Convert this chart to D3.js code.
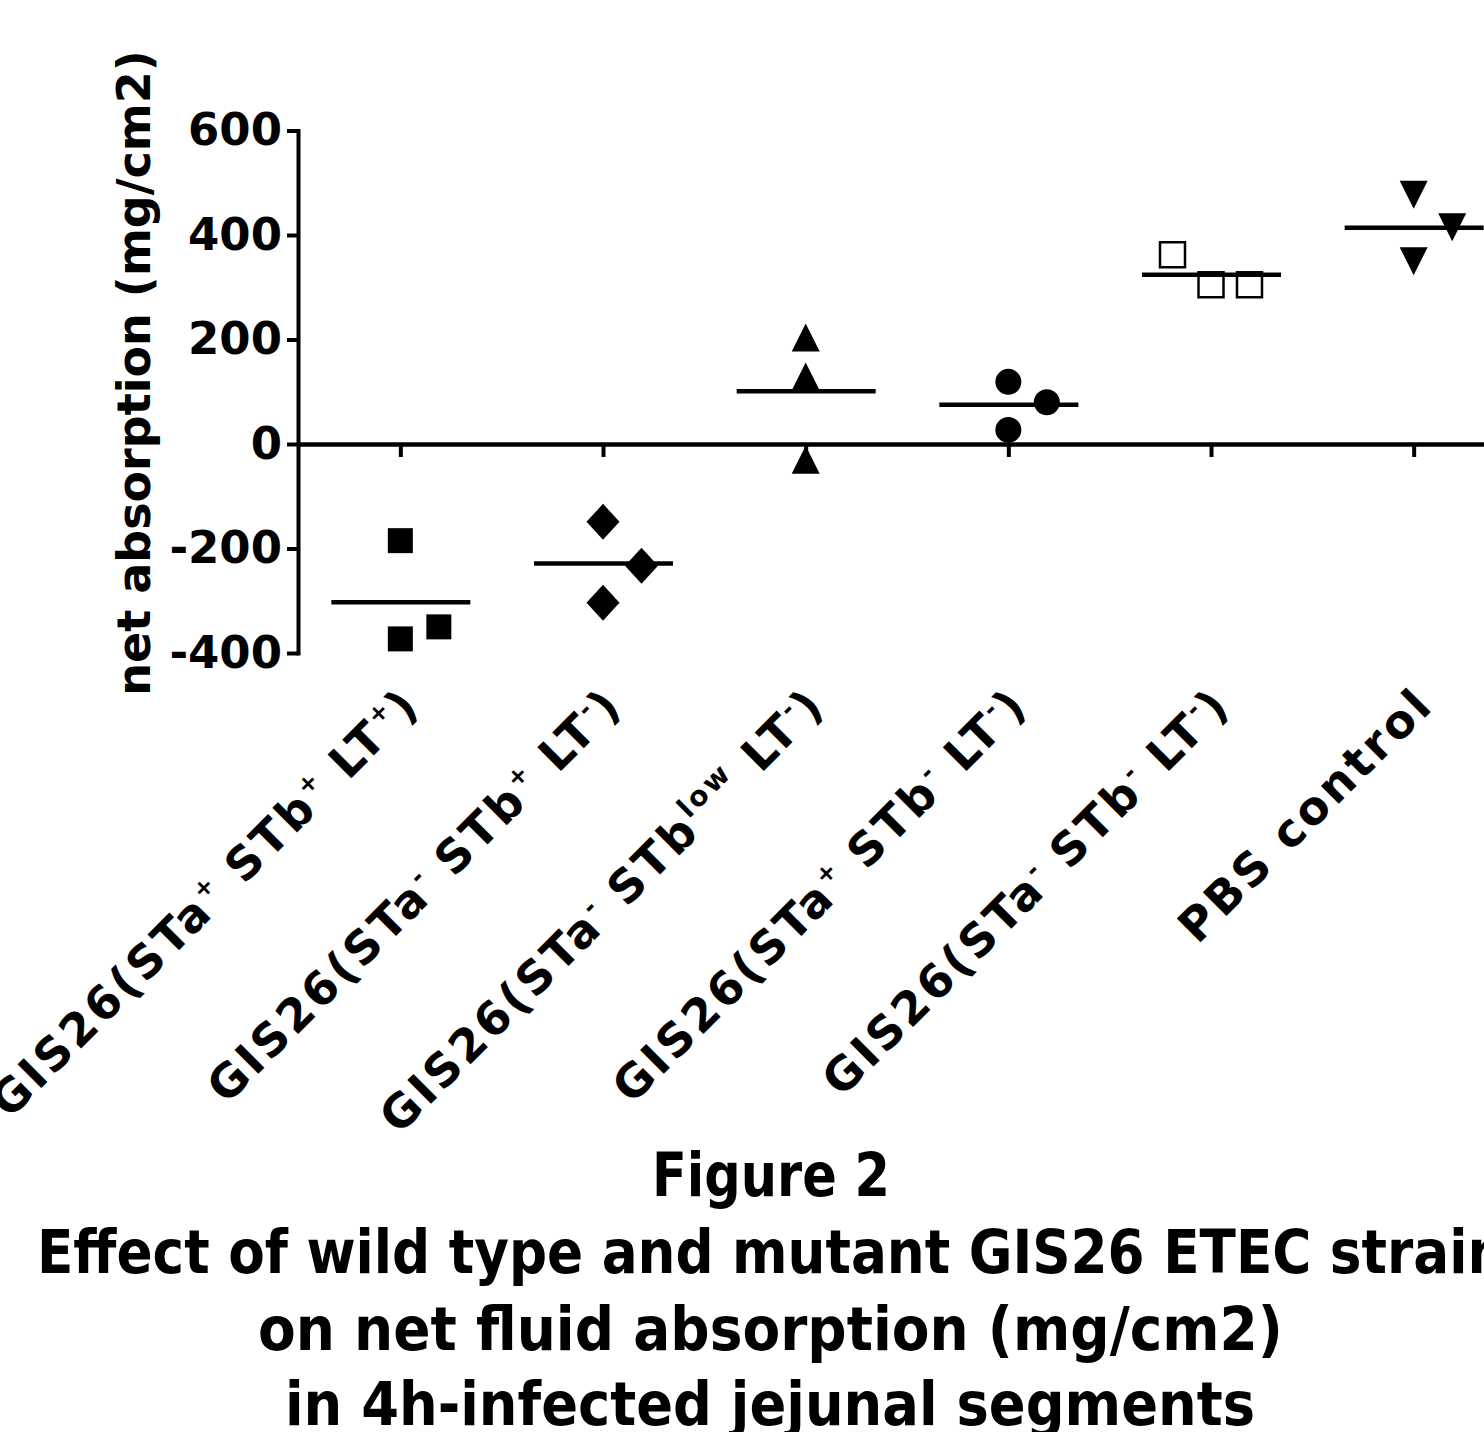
<!DOCTYPE html>
<html><head><meta charset="utf-8">
<script src="https://cdn.jsdelivr.net/npm/d3@7"></script>
<style>html,body{margin:0;padding:0;background:#fff;overflow:hidden}</style>
</head><body><svg id="chart" width="1484" height="1432" xmlns="http://www.w3.org/2000/svg"></svg>
<script>
// ---------------- DATA ----------------
const categories = [
  "GIS26(STa^{+} STb^{+} LT^{+})",
  "GIS26(STa^{-} STb^{+} LT^{-})",
  "GIS26(STa^{-} STb^{low} LT^{-})",
  "GIS26(STa^{+} STb^{-} LT^{-})",
  "GIS26(STa^{-} STb^{-} LT^{-})",
  "PBS control"
];
const valuesWildType   = [-185, -373, -350];
const valuesStaMinus   = [-149, -304, -233];
const valuesStbLow     = [204, 129, -30];
const valuesStbMinus   = [119, 27, 80];
const valuesDouble     = [362, 305, 305];
const valuesPBS        = [477, 350, 415];
// horizontal dodge slot of each point
const dodgeWildType = [0, 0, 1];
const dodgeStaMinus = [0, 0, 1];
const dodgeStbLow   = [0, 0, 0];
const dodgeStbMinus = [0, 0, 1];
const dodgeDouble   = [-1, 0, 1];
const dodgePBS      = [0, 0, 1];
const yTicks = [-400, -200, 0, 200, 400, 600];
const yLabel = "net absorption (mg/cm2)";
const titleLines = [
  "Figure 2",
  "Effect of wild type and mutant GIS26 ETEC strains",
  "on net fluid absorption (mg/cm2)",
  "in 4h-infected jejunal segments"
];

const groupValues = [valuesWildType, valuesStaMinus, valuesStbLow, valuesStbMinus, valuesDouble, valuesPBS];
const groupDodge  = [dodgeWildType, dodgeStaMinus, dodgeStbLow, dodgeStbMinus, dodgeDouble, dodgePBS];

// ---------------- DRAWING ----------------
const FONT = "'DejaVu Sans', sans-serif";
const svg = d3.select("#chart");
svg.append("rect").attr("width", 1484).attr("height", 1432).attr("fill", "#fff");

const x = d3.scalePoint().domain(d3.range(categories.length)).range([299, 1515]).padding(0.5);
const y = d3.scaleLinear().domain([-400, 600]).range([653, 130.5]);

// Y axis
const yAxis = svg.append("g").attr("transform", "translate(298,0)")
  .call(d3.axisLeft(y).tickValues(yTicks).tickSize(11).tickSizeOuter(0).tickPadding(5).tickFormat(d => String(d)));
yAxis.select(".domain").attr("stroke", "#000").attr("stroke-width", 4).attr("stroke-linecap", "square");
yAxis.selectAll(".tick line").attr("stroke", "#000").attr("stroke-width", 4);
yAxis.selectAll(".tick text").attr("font-family", FONT).attr("font-weight", "bold")
  .attr("font-size", 45).attr("fill", "#000");

// X axis at zero
const xAxis = svg.append("g").attr("transform", `translate(0,${y(0)})`)
  .call(d3.axisBottom(x).tickSize(13).tickSizeOuter(0).tickFormat(""));
xAxis.select(".domain").attr("stroke", "#000").attr("stroke-width", 4.5);
xAxis.selectAll(".tick line").attr("stroke", "#000").attr("stroke-width", 4);

// Y label
svg.append("text")
  .attr("transform", "translate(150,373) rotate(-90)")
  .attr("text-anchor", "middle")
  .attr("font-family", FONT).attr("font-weight", "bold").attr("font-size", 46)
  .attr("fill", "#000")
  .text(yLabel);

// Category labels (rotated, with superscripts)
const supShift = 19;
categories.forEach((c, i) => {
  const t = svg.append("text")
    .attr("transform", `translate(${x(i) + 22},707) rotate(-45)`)
    .attr("text-anchor", "end")
    .attr("font-family", FONT).attr("font-weight", "bold").attr("font-size", 46)
    .attr("letter-spacing", 3.2)
    .attr("fill", "#000");
  const parts = c.split(/\^\{([^}]*)\}/);
  let prevSup = false;
  parts.forEach((p, k) => {
    if (p === "") { return; }
    const isSup = k % 2 === 1;
    const ts = t.append("tspan").text(p);
    if (isSup) {
      const short = p.length === 1;
      ts.attr("font-size", short ? 24 : 28).attr("letter-spacing", short ? 1 : 3)
        .attr("dy", -supShift);
      prevSup = true;
    } else {
      if (prevSup) ts.attr("dy", supShift);
      prevSup = false;
    }
  });
});

// Marker shapes
const sq = { draw(ctx, s) { const h = s / 2; ctx.rect(-h, -h, s, s); } };
const diamond = { draw(ctx, s) { const w = s / 2, h = s / 2 + 1.5; ctx.moveTo(0, -h); ctx.lineTo(w, 0); ctx.lineTo(0, h); ctx.lineTo(-w, 0); ctx.closePath(); } };
const triUp = { draw(ctx, s) { const h = s / 2; ctx.moveTo(0, -h); ctx.lineTo(h, h); ctx.lineTo(-h, h); ctx.closePath(); } };
const triDown = { draw(ctx, s) { const h = s / 2; ctx.moveTo(-h, -h); ctx.lineTo(h, -h); ctx.lineTo(0, h); ctx.closePath(); } };
const circ = { draw(ctx, s) { const r = s / 2; ctx.moveTo(r, 0); ctx.arc(0, 0, r, 0, 2 * Math.PI); } };

const markers = [
  { type: sq, size: 25, fill: "#000", stroke: "none" },
  { type: diamond, size: 33, fill: "#000", stroke: "none" },
  { type: triUp, size: 28, fill: "#000", stroke: "none" },
  { type: circ, size: 26, fill: "#000", stroke: "none" },
  { type: sq, size: 25, fill: "#fff", stroke: "#000" },
  { type: triDown, size: 28, fill: "#000", stroke: "none" }
];
const dodgeStep = 38.5;

const pts = svg.append("g");
groupValues.forEach((vals, i) => {
  const m = markers[i];
  const sym = d3.symbol().type(m.type).size(m.size);
  pts.selectAll(null).data(vals.map((v, j) => ({ v, d: groupDodge[i][j] })))
    .enter().append("path")
    .attr("d", sym)
    .attr("transform", d => `translate(${x(i) + d.d * dodgeStep},${y(d.v)})`)
    .attr("fill", m.fill)
    .attr("stroke", m.stroke)
    .attr("stroke-width", m.stroke === "none" ? 0 : 2.5);
});

// Mean lines
const means = groupValues.map(v => d3.mean(v));
svg.append("g").selectAll("line").data(means).enter().append("line")
  .attr("x1", (d, i) => x(i) - 69)
  .attr("x2", (d, i) => x(i) + 70)
  .attr("y1", d => y(d)).attr("y2", d => y(d))
  .attr("stroke", "#000").attr("stroke-width", 4.5);

// Title
const titleLayout = [
  { x: 652, base: 1196, len: 238 },
  { x: 37, base: 1273, len: 1500 },
  { x: 258, base: 1350, len: 1025 },
  { x: 285, base: 1425, len: 970 }
];
titleLines.forEach((line, i) => {
  const L = titleLayout[i];
  svg.append("text")
    .attr("x", L.x).attr("y", L.base)
    .attr("text-anchor", "start")
    .attr("textLength", L.len).attr("lengthAdjust", "spacingAndGlyphs")
    .attr("font-family", FONT).attr("font-weight", "bold").attr("font-size", 60)
    .attr("fill", "#000")
    .text(line);
});
</script>
</body></html>
